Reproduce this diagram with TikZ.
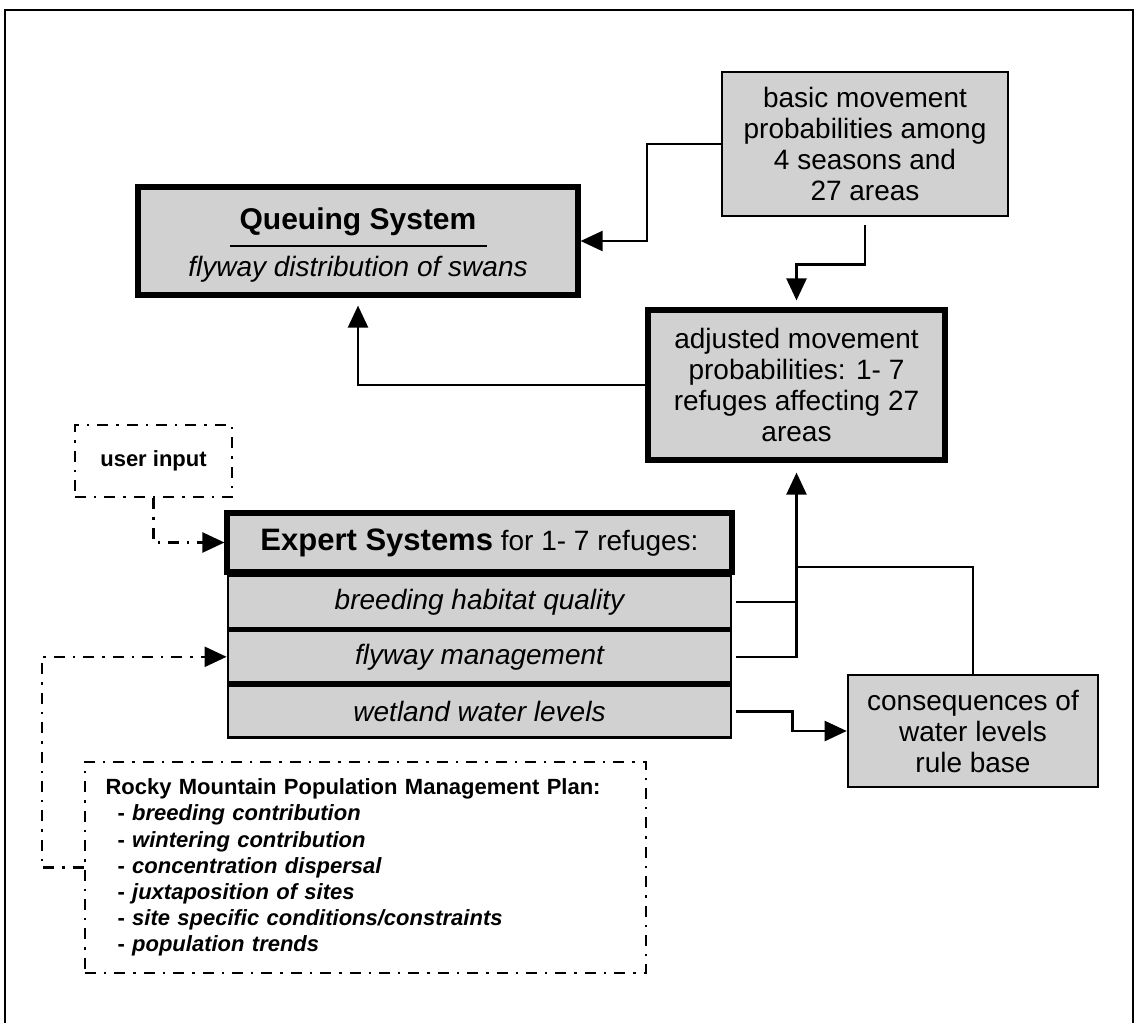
\documentclass[tikz,border=0pt]{standalone}
\usepackage{fontspec}
\setmainfont{Liberation Sans}
\usetikzlibrary{arrows.meta, positioning}

\tikzset{
  thickbox/.style={draw, line width=2.6pt, fill=black!18, inner sep=0pt, align=center, font=\fontsize{14}{15.5}\selectfont},
  thinbox/.style={draw, line width=1.3pt, fill=black!18, inner sep=0pt, align=center, font=\fontsize{14}{15.5}\selectfont},
  rowbox/.style={draw, line width=1.4pt, fill=black!18, inner sep=0pt, minimum width=251.5pt, minimum height=26pt, font=\fontsize{14}{16}\selectfont\itshape},
  dashdot/.style={line width=1.2pt, dash pattern=on 5.5pt off 4pt on 1.2pt off 4pt},
  dashbox/.style={draw, dashdot, inner sep=0pt},
  link/.style={line width=1.2pt, -{Triangle[length=11pt,width=10pt]}},
}

\begin{document}
\begin{tikzpicture}[x=0.5pt, y=-0.5pt]
    \useasboundingbox (0,0) rectangle (1138,1023);
    \draw[line width=1pt] (5,1023) -- (5,10) -- (1133,10) -- (1133,1023);

    % queuing system
    \node[thickbox, minimum width=220pt, minimum height=54pt] (queue) at (358,241) {};
    \node[anchor=base, font=\fontsize{15}{18}\selectfont\bfseries] (queuetitle) at (358,229) {Queuing System};
    \draw[line width=0.7pt] (230,246) -- (487,246);
    \node[anchor=base, font=\fontsize{14}{16}\selectfont\itshape] (queuesub) at (358,276) {flyway distribution of swans};

    % movement probabilities
    \node[thinbox, minimum width=143pt, minimum height=72pt] (basic) at (865,144) {basic movement\\probabilities among\\4 seasons and\\27 areas};
    \node[thickbox, minimum width=148.5pt, minimum height=75pt] (adjusted) at (796.5,385) {adjusted movement\\probabilities: 1- 7\\refuges affecting 27\\areas};

    % expert systems
    \node[thickbox, minimum width=252.5pt, minimum height=29.5pt] (expert) at (479.5,542.5) {{\fontsize{15.5}{18}\selectfont\bfseries Expert Systems} for 1- 7 refuges:};
    \node[rowbox, below=0pt of expert] (breeding) {breeding habitat quality};
    \node[rowbox, below=0pt of breeding] (flyway) {flyway management};
    \node[rowbox, below=0pt of flyway] (wetland) {wetland water levels};
    \draw[line width=2.4pt] (breeding.south west) -- (breeding.south east);
    \draw[line width=2.4pt] (flyway.south west) -- (flyway.south east);

    \node[thinbox, minimum width=125pt, minimum height=56pt] (conseq) at (973,731) {consequences of\\water levels\\rule base};

    % inputs
    \node[dashbox, minimum width=78.5pt, minimum height=36pt, font=\fontsize{11}{13}\selectfont\bfseries] (user) at (153.5,461) {user input};
    \node[dashbox, minimum width=280.5pt, minimum height=105.5pt, text width=260pt, align=left, font=\fontsize{11}{13.1}\selectfont\bfseries] (rmp) at (365.5,867.5)
      {Rocky Mountain Population Management Plan:\\
       \hspace*{6pt}- \textit{breeding contribution}\\
       \hspace*{6pt}- \textit{wintering contribution}\\
       \hspace*{6pt}- \textit{concentration dispersal}\\
       \hspace*{6pt}- \textit{juxtaposition of sites}\\
       \hspace*{6pt}- \textit{site specific conditions/constraints}\\
       \hspace*{6pt}- \textit{population trends}};

    % connectors
    \draw[link] (basic.west) -- ++(-74,0) |- (queue.east);
    \draw[link, shorten <=4pt, shorten >=3.5pt] (basic.south) -- ++(0,47) -| (adjusted.north);
    \draw[link, shorten >=4pt] (adjusted.west) -| (queue.south);

    \coordinate (joint) at (796.5,567);
    \draw[line width=1.2pt, shorten <=2pt] (breeding.east) -- (breeding.east -| adjusted.south);
    \draw[link, shorten <=2pt, shorten >=5pt] (flyway.east) -| (adjusted.south);
    \draw[line width=1.2pt] (conseq.north) |- (joint);
    \draw[link, shorten <=2pt] (wetland.east) -- ++(60,0) |- (conseq.west);

    \draw[dashdot, -{Triangle[length=11pt,width=10pt]}] (user.south) |- (expert.west);
    \draw[dashdot, -{Triangle[length=11pt,width=10pt]}] (rmp.west) -- ++(-42,0) |- (flyway.west);
\end{tikzpicture}
\end{document}
